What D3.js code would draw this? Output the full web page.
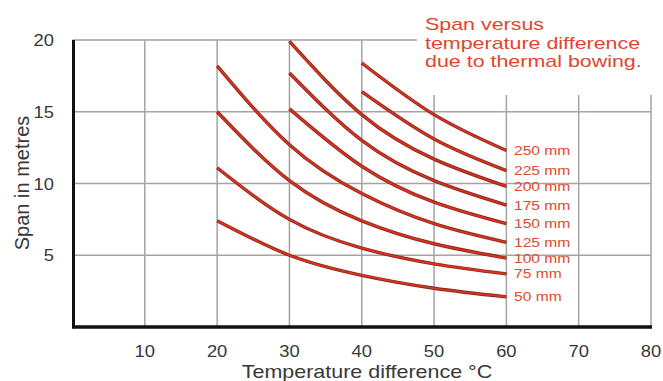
<!DOCTYPE html>
<html>
<head>
<meta charset="utf-8">
<script src="https://cdn.jsdelivr.net/npm/d3@7"></script>
<style>
  body { margin: 0; background: #fff; }
  text { font-family: "Liberation Sans", Arial, sans-serif; }
</style>
</head>
<body>
<div id="chart-area"></div>
<script>
// temperature difference (deg C) where spans were read
const temps = [20, 30, 40, 50, 60]

// span in metres for each depth, null where the curve does not exist
const span50 = [7.4, 5.0, 3.6, 2.7, 2.1]
const span75 = [11.1, 7.5, 5.5, 4.4, 3.7]
const span100 = [15.0, 10.2, 7.4, 5.8, 4.8]
const span125 = [18.2, 12.7, 9.3, 7.2, 5.9]
const span150 = [null, 15.2, 11.2, 8.7, 7.2]
const span175 = [null, 17.7, 13.0, 10.2, 8.5]
const span200 = [null, 19.9, 14.8, 11.7, 9.8]
const span225 = [null, null, 16.4, 13.1, 10.9]
const span250 = [null, null, 18.4, 14.8, 12.3]

const depthLabels = ["50 mm", "75 mm", "100 mm", "125 mm", "150 mm", "175 mm", "200 mm", "225 mm", "250 mm"]
const spans = [span50, span75, span100, span125, span150, span175, span200, span225, span250]

const xTicks = [10, 20, 30, 40, 50, 60, 70, 80]
const yTicks = [5, 10, 15, 20]
const titleLines = ["Span versus", "temperature difference", "due to thermal bowing."]

const width = 663, height = 381

const svg = d3.select("#chart-area").append("svg")
    .attr("width", width)
    .attr("height", height)

const x = d3.scaleLinear().domain([0, 80]).range([72.5, 651])
const y = d3.scaleLinear().domain([0, 20]).range([327, 40])

// the text in the picture is drawn wider than normal, stretch it a bit
function stretch(sel, k) {
    sel.each(function() {
        const len = this.getComputedTextLength()
        d3.select(this).attr("textLength", len * k).attr("lengthAdjust", "spacingAndGlyphs")
    })
}

const grid = svg.append("g").attr("stroke", "#a8a2a0").attr("stroke-width", 1.5)

// horizontal grid lines
grid.selectAll("line.h")
    .data(yTicks)
    .enter().append("line")
    .attr("x1", x(0))
    .attr("x2", d => d == 20 ? 417 : x(80))
    .attr("y1", d => y(d))
    .attr("y2", d => y(d))

// vertical grid lines
grid.selectAll("line.v")
    .data(xTicks)
    .enter().append("line")
    .attr("x1", d => x(d))
    .attr("x2", d => x(d))
    .attr("y1", y(0))
    .attr("y2", d => x(d) > 417 ? 95 : y(20))

// axes (black, thick)
svg.append("line")
    .attr("x1", x(0) + 1).attr("x2", x(0) + 1)
    .attr("y1", y(20)).attr("y2", y(0) + 1.5)
    .attr("stroke", "#111").attr("stroke-width", 3)
svg.append("line")
    .attr("x1", x(0)).attr("x2", x(80) + 1)
    .attr("y1", y(0)).attr("y2", y(0))
    .attr("stroke", "#111").attr("stroke-width", 3.5)

// tick labels
svg.selectAll("text.xtick")
    .data(xTicks)
    .enter().append("text")
    .attr("class", "xtick")
    .attr("x", d => x(d))
    .attr("y", 357)
    .attr("text-anchor", "middle")
    .attr("font-size", "17px")
    .attr("fill", "#383838")
    .text(d => d)
    .call(stretch, 1.08)

svg.selectAll("text.ytick")
    .data(yTicks)
    .enter().append("text")
    .attr("class", "ytick")
    .attr("x", 54)
    .attr("y", d => y(d) + 6)
    .attr("text-anchor", "end")
    .attr("font-size", "17px")
    .attr("fill", "#383838")
    .text(d => d)
    .call(stretch, 1.08)

// axis titles
svg.append("text")
    .attr("x", 367)
    .attr("y", 378)
    .attr("text-anchor", "middle")
    .attr("font-size", "19px")
    .attr("fill", "#383838")
    .text("Temperature difference °C")
    .call(stretch, 1.13)

svg.append("text")
    .attr("x", -183)
    .attr("y", 29)
    .attr("transform", "rotate(-90)")
    .attr("text-anchor", "middle")
    .attr("font-size", "20px")
    .attr("fill", "#383838")
    .text("Span in metres")

// curves
const line = d3.line()
    .defined(d => d[1] != null)
    .x(d => x(d[0]))
    .y(d => y(d[1]))
    .curve(d3.curveNatural)

const curves = svg.append("g").attr("fill", "none").attr("stroke-linecap", "butt")

spans.forEach(function(s, i) {
    const pts = temps.map((t, j) => [t, s[j]]).filter(d => d[1] != null)
    curves.append("path")
        .attr("d", line(pts))
        .attr("stroke", "#8a2a1e")
        .attr("stroke-width", 3.4)
    curves.append("path")
        .attr("d", line(pts))
        .attr("stroke", "#e2321f")
        .attr("stroke-width", 1.6)

    svg.append("text")
        .attr("x", 514)
        .attr("y", y(s[s.length - 1]) + 4.5)
        .attr("font-size", "12px")
        .attr("fill", "#df4a30")
        .text(depthLabels[i])
        .call(stretch, 1.3)
})

// red title
svg.selectAll("text.title")
    .data(titleLines)
    .enter().append("text")
    .attr("class", "title")
    .attr("x", 425)
    .attr("y", (d, i) => 30 + i * 18.5)
    .attr("font-size", "17px")
    .attr("fill", "#e0462c")
    .text(d => d)
    .call(stretch, 1.26)
</script>
</body>
</html>
